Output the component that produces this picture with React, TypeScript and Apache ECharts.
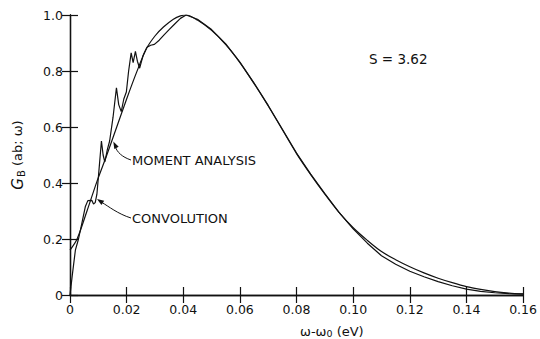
import React, { useEffect, useRef } from "react";
import * as echarts from "echarts";

// Line shape G_B(ab; ω) versus ω-ω0, two methods, S = 3.62
const convolution: [number, number][] = [
  [0, 0], [0.0008, 0.07], [0.0019, 0.16], [0.003, 0.2], [0.0042, 0.257],
  [0.0054, 0.315], [0.0063, 0.337], [0.0077, 0.338], [0.0083, 0.325],
  [0.0089, 0.33], [0.0095, 0.36], [0.0101, 0.43], [0.0111, 0.55],
  [0.0117, 0.5], [0.0123, 0.475], [0.0132, 0.52], [0.014, 0.55],
  [0.0152, 0.635], [0.0164, 0.74], [0.0172, 0.68], [0.0181, 0.655],
  [0.019, 0.7], [0.0199, 0.725], [0.0207, 0.8], [0.0216, 0.865],
  [0.0223, 0.83], [0.0231, 0.87], [0.0238, 0.835], [0.0246, 0.81],
  [0.0258, 0.855], [0.0272, 0.885], [0.0285, 0.892], [0.0298, 0.895],
  [0.0315, 0.91], [0.0333, 0.93], [0.035, 0.948], [0.0368, 0.966],
  [0.039, 0.988], [0.041, 1.0], [0.045, 0.985], [0.05, 0.948],
  [0.055, 0.897], [0.06, 0.832], [0.065, 0.757], [0.07, 0.677],
  [0.075, 0.592], [0.08, 0.507], [0.085, 0.432], [0.09, 0.362],
  [0.095, 0.295], [0.1, 0.236], [0.105, 0.185], [0.11, 0.14],
  [0.115, 0.11], [0.12, 0.085], [0.125, 0.065], [0.13, 0.048],
  [0.135, 0.033], [0.14, 0.021], [0.145, 0.013], [0.15, 0.008],
  [0.155, 0.005], [0.16, 0.003],
];

const momentAnalysis: [number, number][] = [
  [0, 0.16], [0.0025, 0.2], [0.006, 0.3], [0.0095, 0.405], [0.013, 0.5],
  [0.0165, 0.6], [0.02, 0.7], [0.0235, 0.795], [0.027, 0.88],
  [0.03, 0.925], [0.033, 0.957], [0.0365, 0.985], [0.039, 0.997],
  [0.041, 1.0], [0.045, 0.982], [0.05, 0.945], [0.055, 0.894],
  [0.06, 0.83], [0.065, 0.755], [0.07, 0.675], [0.075, 0.59],
  [0.08, 0.505], [0.085, 0.43], [0.09, 0.36], [0.095, 0.295],
  [0.1, 0.24], [0.105, 0.195], [0.11, 0.155], [0.115, 0.126],
  [0.12, 0.101], [0.125, 0.079], [0.13, 0.06], [0.135, 0.044],
  [0.14, 0.03], [0.145, 0.02], [0.15, 0.012], [0.155, 0.007],
  [0.16, 0.004],
];

const xRange = { min: 0, max: 0.16, step: 0.02 };
const yRange = { min: 0, max: 1, step: 0.2 };

const INK = "#111";
const FONT = "DejaVu Sans";

export default function App() {
  const ref = useRef<HTMLDivElement>(null);

  useEffect(() => {
    if (!ref.current) return;
    const chart = echarts.init(ref.current, null, { renderer: "svg" });

    const axisLine = { show: true, lineStyle: { color: INK, width: 1.3 } };
    const tick = { show: true, inside: true, length: 8, lineStyle: { color: INK, width: 1.2 } };
    const labelStyle = { fontFamily: FONT, fontSize: 12.5, color: INK };

    chart.setOption({
      animation: false,
      backgroundColor: "#fff",
      grid: { left: 70, right: 14, top: 15, bottom: 44 },
      xAxis: [
        {
          type: "value",
          min: xRange.min,
          max: xRange.max,
          interval: xRange.step,
          position: "bottom",
          axisLine,
          axisTick: tick,
          splitLine: { show: false },
          axisLabel: {
            ...labelStyle,
            margin: 8,
            formatter: (v: number) => (v === 0 ? "0" : v.toFixed(2)),
          },
        },
        {
          type: "value",
          min: xRange.min,
          max: xRange.max,
          interval: xRange.step,
          position: "top",
          axisLine,
          axisTick: tick,
          splitLine: { show: false },
          axisLabel: { show: false },
        },
      ],
      yAxis: [
        {
          type: "value",
          min: yRange.min,
          max: yRange.max,
          interval: yRange.step,
          position: "left",
          axisLine,
          axisTick: tick,
          splitLine: { show: false },
          axisLabel: {
            ...labelStyle,
            margin: 7,
            formatter: (v: number) => (v === 0 ? "0" : v.toFixed(1)),
          },
          name: "{g|G}{s|B}{n| (ab; ω)}",
          nameLocation: "middle",
          nameGap: 44,
          nameTextStyle: {
            rich: {
              g: { fontFamily: FONT, fontSize: 15, fontStyle: "italic", color: INK },
              s: { fontFamily: FONT, fontSize: 10, color: INK, verticalAlign: "bottom", padding: [7, 0, 0, 1] },
              n: { fontFamily: FONT, fontSize: 13, color: INK },
            },
          },
        },
        {
          type: "value",
          min: yRange.min,
          max: yRange.max,
          interval: yRange.step,
          position: "right",
          axisLine,
          axisTick: tick,
          splitLine: { show: false },
          axisLabel: { show: false },
        },
      ],
      series: [
        {
          name: "CONVOLUTION",
          type: "line",
          data: convolution,
          symbol: "none",
          smooth: false,
          lineStyle: { color: INK, width: 1.2 },
        },
        {
          name: "MOMENT ANALYSIS",
          type: "line",
          data: momentAnalysis,
          symbol: "none",
          smooth: 0.3,
          lineStyle: { color: INK, width: 1.2 },
        },
      ],
      graphic: [
        {
          type: "text",
          x: 369,
          y: 59,
          style: { text: "S = 3.62", fontFamily: FONT, fontSize: 13.5, fill: INK, verticalAlign: "middle" },
        },
        {
          type: "text",
          x: 300,
          y: 331,
          style: {
            text: "{a|ω-ω}{s|0}{a| (eV)}",
            verticalAlign: "middle",
            rich: {
              a: { fontFamily: FONT, fontSize: 13, fill: INK },
              s: { fontFamily: FONT, fontSize: 9.5, fill: INK, padding: [5, 0, 0, 0] },
            },
          },
        },
        {
          type: "text",
          x: 132,
          y: 160,
          style: { text: "MOMENT ANALYSIS", fontFamily: FONT, fontSize: 13, fill: INK, verticalAlign: "middle" },
        },
        {
          type: "text",
          x: 132,
          y: 218,
          style: { text: "CONVOLUTION", fontFamily: FONT, fontSize: 13, fill: INK, verticalAlign: "middle" },
        },
        {
          type: "bezierCurve",
          shape: { x1: 131, y1: 160, cpx1: 122, cpy1: 157, cpx2: 117, cpy2: 152, x2: 115.5, y2: 147 },
          style: { stroke: INK, lineWidth: 1, fill: "none" },
        },
        {
          type: "polygon",
          shape: { points: [[113.3, 141.5], [118.7, 146.7], [114.3, 149]] },
          style: { fill: INK },
        },
        {
          type: "bezierCurve",
          shape: { x1: 131, y1: 218, cpx1: 118, cpy1: 214, cpx2: 108, cpy2: 206, x2: 102, y2: 202.5 },
          style: { stroke: INK, lineWidth: 1, fill: "none" },
        },
        {
          type: "polygon",
          shape: { points: [[97, 199], [104.2, 200.8], [101.4, 205]] },
          style: { fill: INK },
        },
      ],
    });

    return () => chart.dispose();
  }, []);

  return (
    <div
      ref={ref}
      style={{ position: "fixed", left: 0, top: 0, width: 540, height: 339, background: "#fff" }}
    />
  );
}
